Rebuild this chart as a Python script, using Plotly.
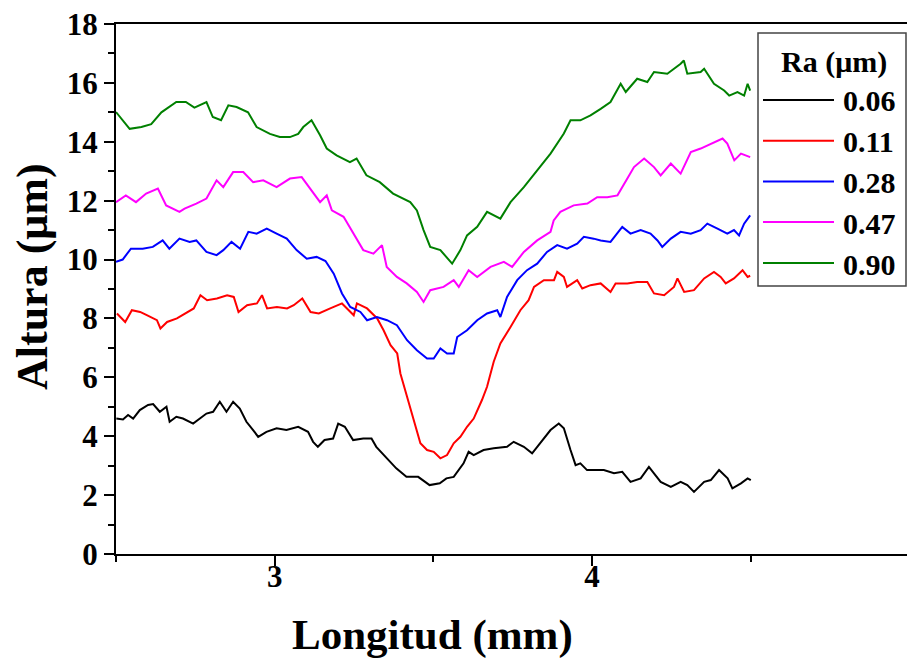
import plotly.graph_objects as go

# ---------------- data ----------------
series_names = ["0.06", "0.11", "0.28", "0.47", "0.90"]
series_colors = ["#000000", "#ff0000", "#0000ff", "#ff00ff", "#008000"]

x_006 = [2.501, 2.522, 2.538, 2.554, 2.575, 2.601, 2.617, 2.638, 2.659, 2.669, 2.690, 2.711, 2.743, 2.764,
         2.785, 2.806, 2.827, 2.848, 2.869, 2.890, 2.911, 2.932, 2.948, 2.974, 3.006, 3.037, 3.074, 3.105,
         3.121, 3.136, 3.157, 3.184, 3.200, 3.221, 3.247, 3.279, 3.305, 3.320, 3.352, 3.383, 3.415, 3.452,
         3.488, 3.520, 3.541, 3.564, 3.595, 3.611, 3.627, 3.658, 3.690, 3.732, 3.753, 3.785, 3.811, 3.837,
         3.869, 3.895, 3.911, 3.932, 3.948, 3.963, 3.984, 4.016, 4.037, 4.069, 4.095, 4.121, 4.153, 4.179,
         4.216, 4.248, 4.279, 4.300, 4.321, 4.353, 4.374, 4.400, 4.427, 4.442, 4.469, 4.490, 4.500]
h_006 = [4.60, 4.57, 4.72, 4.60, 4.89, 5.06, 5.09, 4.83, 5.00, 4.49, 4.66, 4.60, 4.43, 4.60,
         4.77, 4.83, 5.17, 4.83, 5.17, 4.94, 4.49, 4.21, 3.98, 4.15, 4.27, 4.21, 4.32, 4.15,
         3.81, 3.64, 3.87, 3.92, 4.43, 4.32, 3.87, 3.92, 3.92, 3.64, 3.25, 2.91, 2.62, 2.62,
         2.34, 2.40, 2.57, 2.62, 3.08, 3.47, 3.36, 3.53, 3.59, 3.64, 3.81, 3.64, 3.42, 3.76,
         4.21, 4.43, 4.27, 3.53, 3.02, 3.08, 2.85, 2.85, 2.85, 2.74, 2.79, 2.45, 2.57, 2.96,
         2.45, 2.28, 2.45, 2.34, 2.11, 2.45, 2.51, 2.85, 2.57, 2.23, 2.40, 2.57, 2.51]

x_011 = [2.503, 2.529, 2.550, 2.576, 2.597, 2.629, 2.640, 2.661, 2.692, 2.724, 2.745, 2.766, 2.787, 2.818,
         2.850, 2.871, 2.886, 2.913, 2.944, 2.960, 2.976, 3.007, 3.039, 3.060, 3.087, 3.113, 3.139, 3.175,
         3.212, 3.249, 3.259, 3.291, 3.323, 3.343, 3.365, 3.386, 3.396, 3.417, 3.438, 3.459, 3.480, 3.501,
         3.522, 3.543, 3.564, 3.585, 3.606, 3.627, 3.653, 3.669, 3.690, 3.711, 3.743, 3.774, 3.800, 3.817,
         3.848, 3.880, 3.890, 3.911, 3.921, 3.953, 3.969, 3.995, 4.027, 4.058, 4.074, 4.111, 4.142, 4.174,
         4.195, 4.227, 4.258, 4.269, 4.290, 4.321, 4.353, 4.384, 4.405, 4.421, 4.447, 4.474, 4.490, 4.498]
h_011 = [8.17, 7.88, 8.28, 8.22, 8.11, 7.94, 7.66, 7.88, 8.00, 8.22, 8.34, 8.79, 8.62, 8.68,
         8.79, 8.73, 8.22, 8.45, 8.51, 8.79, 8.34, 8.39, 8.34, 8.45, 8.68, 8.22, 8.17, 8.34,
         8.51, 8.11, 8.51, 8.34, 8.00, 7.60, 7.09, 6.81, 6.13, 5.34, 4.55, 3.76, 3.53, 3.47,
         3.25, 3.36, 3.76, 3.98, 4.32, 4.60, 5.23, 5.68, 6.53, 7.15, 7.71, 8.28, 8.62, 9.07,
         9.30, 9.30, 9.58, 9.41, 9.07, 9.30, 9.02, 9.13, 9.19, 8.90, 9.19, 9.19, 9.24, 9.24,
         8.85, 8.79, 9.07, 9.36, 8.90, 8.96, 9.36, 9.58, 9.41, 9.19, 9.36, 9.64, 9.41, 9.45]

x_028 = [2.500, 2.521, 2.547, 2.584, 2.616, 2.647, 2.668, 2.700, 2.732, 2.753, 2.785, 2.817, 2.838, 2.864,
         2.891, 2.917, 2.943, 2.975, 3.006, 3.038, 3.069, 3.101, 3.132, 3.160, 3.186, 3.212, 3.238, 3.270,
         3.291, 3.322, 3.354, 3.385, 3.417, 3.448, 3.480, 3.501, 3.522, 3.543, 3.564, 3.575, 3.606, 3.638,
         3.669, 3.701, 3.711, 3.732, 3.764, 3.795, 3.827, 3.858, 3.890, 3.921, 3.953, 3.974, 4.005, 4.027,
         4.058, 4.095, 4.121, 4.153, 4.184, 4.206, 4.221, 4.248, 4.279, 4.311, 4.342, 4.363, 4.395, 4.426,
         4.447, 4.463, 4.479, 4.498]
h_028 = [9.92, 10.00, 10.37, 10.37, 10.43, 10.65, 10.37, 10.71, 10.60, 10.65, 10.26, 10.15, 10.32, 10.60,
         10.37, 10.94, 10.88, 11.05, 10.88, 10.71, 10.32, 10.03, 10.09, 9.95, 9.52, 8.85, 8.39, 8.22,
         7.94, 8.05, 7.94, 7.77, 7.26, 6.92, 6.64, 6.64, 6.98, 6.81, 6.81, 7.37, 7.60, 7.94,
         8.17, 8.28, 8.05, 8.73, 9.30, 9.64, 9.86, 10.26, 10.49, 10.37, 10.54, 10.77, 10.71, 10.65,
         10.60, 11.11, 10.88, 11.00, 10.88, 10.65, 10.43, 10.71, 10.94, 10.88, 11.00, 11.22, 11.05, 10.88,
         11.00, 10.82, 11.22, 11.50]

x_047 = [2.500, 2.531, 2.563, 2.595, 2.632, 2.658, 2.700, 2.716, 2.753, 2.785, 2.817, 2.838, 2.869, 2.901,
         2.932, 2.964, 3.006, 3.048, 3.085, 3.111, 3.143, 3.164, 3.180, 3.217, 3.248, 3.279, 3.311, 3.338,
         3.353, 3.385, 3.416, 3.448, 3.469, 3.490, 3.532, 3.564, 3.580, 3.611, 3.638, 3.680, 3.722, 3.748,
         3.785, 3.827, 3.869, 3.879, 3.900, 3.942, 3.985, 4.016, 4.048, 4.080, 4.111, 4.132, 4.164, 4.195,
         4.216, 4.248, 4.279, 4.311, 4.342, 4.374, 4.411, 4.426, 4.448, 4.469, 4.498]
h_047 = [11.95, 12.18, 11.95, 12.24, 12.41, 11.84, 11.62, 11.73, 11.90, 12.07, 12.69, 12.46, 12.97, 12.97,
         12.63, 12.69, 12.46, 12.75, 12.80, 12.41, 11.95, 12.18, 11.67, 11.45, 10.88, 10.32, 10.20, 10.49,
         9.75, 9.41, 9.19, 8.90, 8.56, 8.96, 9.07, 9.30, 9.07, 9.64, 9.41, 9.75, 9.92, 9.75,
         10.26, 10.65, 10.94, 11.33, 11.62, 11.84, 11.90, 12.12, 12.12, 12.18, 12.75, 13.14, 13.43, 13.14,
         12.86, 13.26, 12.92, 13.65, 13.77, 13.94, 14.11, 13.94, 13.37, 13.60, 13.48]

x_090 = [2.500, 2.543, 2.580, 2.611, 2.643, 2.690, 2.720, 2.747, 2.785, 2.805, 2.831, 2.854, 2.880, 2.916,
         2.943, 2.985, 3.016, 3.048, 3.074, 3.090, 3.116, 3.143, 3.164, 3.195, 3.237, 3.258, 3.289, 3.331,
         3.373, 3.396, 3.427, 3.448, 3.469, 3.490, 3.522, 3.559, 3.585, 3.606, 3.638, 3.669, 3.711, 3.743,
         3.785, 3.827, 3.869, 3.911, 3.932, 3.963, 3.995, 4.027, 4.058, 4.090, 4.106, 4.142, 4.174, 4.195,
         4.237, 4.279, 4.289, 4.300, 4.342, 4.353, 4.384, 4.416, 4.432, 4.458, 4.479, 4.490, 4.498]
h_090 = [15.01, 14.44, 14.50, 14.60, 15.00, 15.35, 15.35, 15.16, 15.35, 14.84, 14.73, 15.24, 15.18, 15.00,
         14.50, 14.27, 14.16, 14.16, 14.27, 14.50, 14.73, 14.22, 13.77, 13.54, 13.31, 13.43, 12.86, 12.63,
         12.24, 12.12, 11.95, 11.67, 11.00, 10.43, 10.32, 9.86, 10.32, 10.82, 11.11, 11.62, 11.39, 11.95,
         12.46, 13.03, 13.60, 14.28, 14.73, 14.73, 14.90, 15.12, 15.35, 15.97, 15.69, 16.14, 16.03, 16.37,
         16.31, 16.65, 16.76, 16.31, 16.37, 16.48, 15.97, 15.74, 15.57, 15.69, 15.57, 15.97, 15.74]

x_data = [x_006, x_011, x_028, x_047, x_090]
h_data = [h_006, h_011, h_028, h_047, h_090]

x_tick_vals = [3, 4]
x_tick_text = ["3", "4"]
y_tick_vals = [0, 2, 4, 6, 8, 10, 12, 14, 16, 18]

legend_title = "Ra (\u03bcm)"
x_title = "Longitud (mm)"
y_title = "Altura (\u03bcm)"

# ---------------- layout geometry ----------------
W, H = 907, 658
PL, PR, PT, PB = 116, 907, 24, 554
FONT = "Liberation Serif"


def px(x):
    return (x - PL) / (PR - PL)


def py(y):
    return (PB - y) / (PB - PT)


fig = go.Figure()
for xs, hs, name, col in zip(x_data, h_data, series_names, series_colors):
    fig.add_trace(go.Scatter(x=xs, y=hs, mode="lines", name=name,
                             line=dict(color=col, width=2), showlegend=False))

x_max = 2.5 + (PR - PL) / 317.4

tick_font = dict(family=FONT, size=31, color="black", weight="bold")

fig.update_layout(
    width=W, height=H,
    margin=dict(l=PL, r=W - PR, t=PT, b=H - PB, pad=0),
    paper_bgcolor="white", plot_bgcolor="white",
    font=dict(family=FONT, color="black"),
    xaxis=dict(range=[2.5, x_max], showgrid=False, zeroline=False,
               showline=True, linecolor="black", linewidth=2, mirror=True,
               tickmode="array", tickvals=x_tick_vals, ticktext=x_tick_text,
               ticks="outside", ticklen=10, tickwidth=2, tickcolor="black",
               ticklabelstandoff=-16,
               minor=dict(dtick=0.5, tick0=2.5, ticks="outside", ticklen=6, tickwidth=2,
                          tickcolor="black", showgrid=False),
               tickfont=tick_font),
    yaxis=dict(range=[0, 18], showgrid=False, zeroline=False,
               showline=True, linecolor="black", linewidth=2, mirror=False,
               tickmode="array", tickvals=y_tick_vals,
               ticks="outside", ticklen=10, tickwidth=2, tickcolor="black",
               minor=dict(dtick=1, tick0=0, ticks="outside", ticklen=6, tickwidth=2,
                          tickcolor="black", showgrid=False),
               tickfont=tick_font),
)

annotations = [
    dict(text=x_title, xref="paper", yref="paper", x=px(432), y=py(635),
         xanchor="center", yanchor="middle", showarrow=False,
         font=dict(family=FONT, size=43, color="black", weight="bold")),
    dict(text=y_title, xref="paper", yref="paper", x=px(32), y=py(277),
         xanchor="center", yanchor="middle", textangle=-90, showarrow=False,
         font=dict(family=FONT, size=44, color="black", weight="bold")),
    dict(text=legend_title, xref="paper", yref="paper", x=px(834), y=py(62),
         xanchor="center", yanchor="middle", showarrow=False,
         font=dict(family=FONT, size=30, color="black", weight="bold")),
]

shapes = [
    dict(type="rect", xref="paper", yref="paper", x0=px(758), x1=px(906), y0=py(286), y1=py(33),
         line=dict(color="#444444", width=1.5), fillcolor="white", layer="above"),
]

entry_y = [100, 140.7, 181.5, 222, 263]
for name, col, yy in zip(series_names, series_colors, entry_y):
    shapes.append(dict(type="line", xref="paper", yref="paper", x0=px(763), x1=px(834),
                       y0=py(yy), y1=py(yy), line=dict(color=col, width=2), layer="above"))
    annotations.append(dict(text=name, xref="paper", yref="paper", x=px(841), y=py(yy + 1),
                            xanchor="left", yanchor="middle", showarrow=False,
                            font=dict(family=FONT, size=30, color="black", weight="bold")))

fig.update_layout(annotations=annotations, shapes=shapes)
fig.write_html("out.html", config={"displayModeBar": False},
               post_script="document.body.style.margin='0';document.body.style.padding='0';"
                           "document.body.style.overflow='hidden';")
